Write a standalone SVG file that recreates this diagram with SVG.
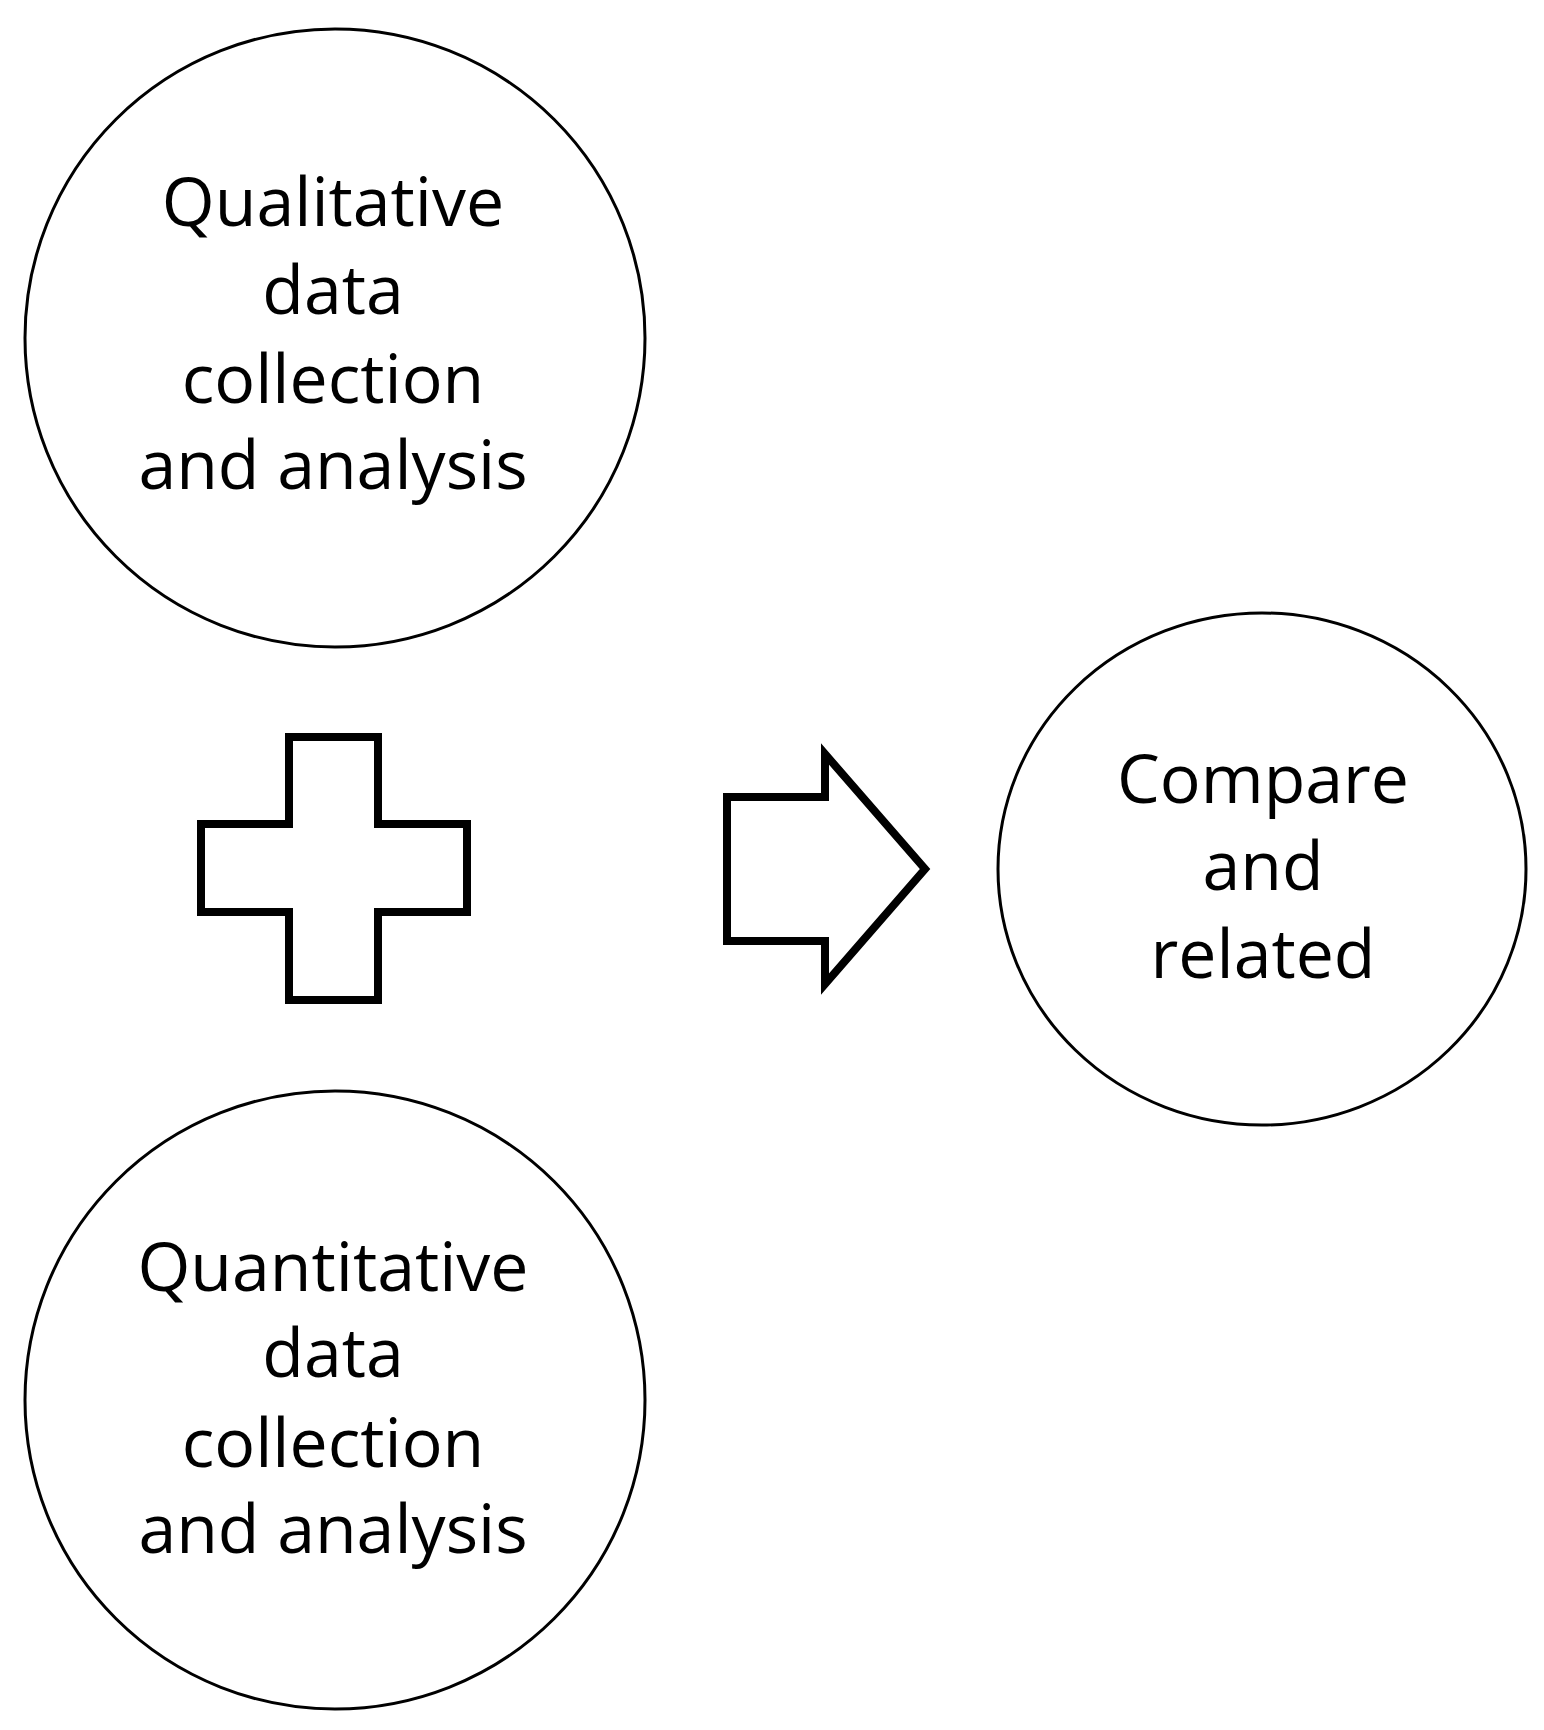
<svg xmlns="http://www.w3.org/2000/svg" width="1544" height="1730" viewBox="0 0 1544 1730">
<style>
.n{fill:#fff;stroke:#000;stroke-width:3}
.s{fill:#fff;stroke:#000;stroke-width:8;stroke-linejoin:miter}
text{font-family:"Open Sans","Liberation Sans",sans-serif;font-size:68px;text-anchor:middle;fill:#000}
</style>
<rect width="1544" height="1730" fill="#fff"/>
<g id="qual"><ellipse class="n" cx="335" cy="338" rx="310" ry="309"/>
<text x="333" y="226">Qualitative</text><text x="333" y="314">data</text><text x="333" y="403">collection</text><text x="333" y="489">and analysis</text></g>
<g id="quant"><ellipse class="n" cx="335" cy="1400" rx="310" ry="309"/>
<text x="333" y="1291">Quantitative</text><text x="333" y="1377">data</text><text x="333" y="1467">collection</text><text x="333" y="1553">and analysis</text></g>
<g id="compare"><ellipse class="n" cx="1262" cy="869" rx="264" ry="256"/>
<text x="1263" y="803">Compare</text><text x="1263" y="890">and</text><text x="1263" y="978">related</text></g>
<g id="plus"><path class="s" d="M289 737H378V824H467V912H378V1000H289V912H201V824H289Z"/></g>
<g id="connectors"><path class="s" d="M727 797H825V754L925 869L825 984V941H727Z"/></g>
</svg>
